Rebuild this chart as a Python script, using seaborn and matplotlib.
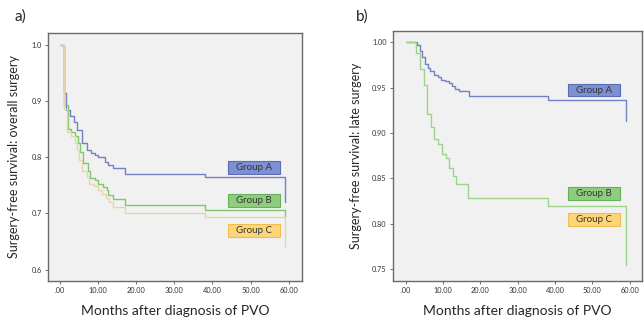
import numpy as np
import pandas as pd
import matplotlib
matplotlib.use("Agg")
import matplotlib.pyplot as plt
import seaborn as sns
from matplotlib.patches import Rectangle

# Panel a) - overall surgery
a_months_A = [0, 1.1, 1.75, 2.6, 3.6, 4.6, 5.7, 7.0, 8.3, 9.2, 10.1, 11.8, 12.7, 14.0, 17.0, 38.0, 59.0]
a_surv_A = [1.0, 0.915, 0.884, 0.873, 0.863, 0.849, 0.825, 0.8125, 0.808, 0.804, 0.800, 0.792, 0.786, 0.780, 0.771, 0.765, 0.720]
a_months_B = [0, 1.0, 2.2, 3.0, 3.9, 4.8, 5.2, 6.1, 7.4, 7.9, 9.2, 10.1, 11.4, 12.3, 12.7, 14.0, 17.0, 38.0, 59.0]
a_surv_B = [1.0, 0.893, 0.850, 0.845, 0.838, 0.825, 0.810, 0.790, 0.775, 0.763, 0.759, 0.753, 0.747, 0.741, 0.732, 0.726, 0.715, 0.707, 0.695]
a_months_C = [0, 1.0, 2.0, 3.0, 3.9, 4.6, 5.0, 5.8, 7.0, 7.6, 9.0, 10.0, 11.0, 12.0, 12.8, 14.0, 17.0, 38.0, 59.0]
a_surv_C = [1.0, 0.885, 0.845, 0.838, 0.826, 0.812, 0.795, 0.775, 0.765, 0.752, 0.748, 0.742, 0.735, 0.727, 0.720, 0.712, 0.700, 0.693, 0.640]

# Panel b) - late surgery
b_months_A = [0, 3.0, 3.8, 4.5, 5.2, 6.0, 6.6, 7.5, 8.6, 9.6, 10.6, 11.5, 12.3, 13.2, 14.2, 17.0, 38.0, 59.0]
b_surv_A = [1.0, 0.997, 0.991, 0.984, 0.976, 0.972, 0.968, 0.964, 0.962, 0.959, 0.957, 0.955, 0.952, 0.949, 0.946, 0.941, 0.937, 0.913]
b_months_B = [0, 2.9, 3.8, 4.9, 5.8, 6.8, 7.7, 8.7, 9.7, 10.7, 11.7, 12.7, 13.6, 16.8, 38.0, 59.0]
b_surv_B = [1.0, 0.988, 0.971, 0.953, 0.921, 0.907, 0.893, 0.888, 0.877, 0.872, 0.861, 0.853, 0.844, 0.829, 0.820, 0.755]

groups = ["Group A", "Group B", "Group C"]
line_colors = {"Group A": "#7181c2", "Group B": "#7dc86a", "Group C": "#e3d6aa"}
box_face = {"Group A": "#7e90d2", "Group B": "#8fcd7e", "Group C": "#fdd67a"}
box_edge = {"Group A": "#5a6cb5", "Group B": "#67b256", "Group C": "#efbf4c"}

xticks = [0, 10, 20, 30, 40, 50, 60]
xtick_labels = [".00", "10.00", "20.00", "30.00", "40.00", "50.00", "60.00"]
a_yticks = [0.6, 0.7, 0.8, 0.9, 1.0]
a_ytick_labels = ["0.6", "0.7", "0.8", "0.9", "1.0"]
b_yticks = [0.75, 0.80, 0.85, 0.90, 0.95, 1.00]
b_ytick_labels = ["0.75", "0.80", "0.85", "0.90", "0.95", "1.00"]


def long_df(parts):
    rows = []
    for g, t, s in parts:
        for ti, si in zip(t, s):
            rows.append({"group": g, "month": ti, "surv": si})
    return pd.DataFrame(rows)


# draw order: A underneath, so the shared start at 1.0 shows as B/C
df_a = long_df([("Group A", a_months_A, a_surv_A),
                ("Group B", a_months_B, a_surv_B),
                ("Group C", a_months_C, a_surv_C)])
df_b = long_df([("Group A", b_months_A, b_surv_A),
                ("Group B", b_months_B, b_surv_B)])

sns.set_style("white")
plt.rcParams["font.family"] = ["Lato", "DejaVu Sans"]

fig = plt.figure(figsize=(6.44, 3.2), dpi=100)
ax_a = fig.add_axes([0.0745, 0.122, 0.3945, 0.775])
ax_b = fig.add_axes([0.610, 0.122, 0.387, 0.781])

pal_b = {"Group A": line_colors["Group A"], "Group B": "#9dd48a"}

for ax, df, pal in [(ax_a, df_a, line_colors), (ax_b, df_b, pal_b)]:
    sns.lineplot(data=df, x="month", y="surv", hue="group", palette=pal,
                 estimator=None, drawstyle="steps-post", linewidth=1.0,
                 legend=False, ax=ax)

# axes styling
ax_a.set_xlim(-3.1, 63.5)
ax_a.set_ylim(0.58, 1.021)
ax_a.set_yticks(a_yticks)
ax_a.set_yticklabels(a_ytick_labels)
ax_a.set_ylabel("Surgery-free survival: overall surgery", fontsize=9, labelpad=8)

ax_b.set_xlim(-3.4, 63.3)
ax_b.set_ylim(0.737, 1.0125)
ax_b.set_yticks(b_yticks)
ax_b.set_yticklabels(b_ytick_labels)
ax_b.set_ylabel("Surgery-free survival: late surgery", fontsize=9, labelpad=7)

for ax in (ax_a, ax_b):
    ax.set_facecolor("#f1f1f1")
    ax.set_xticks(xticks)
    ax.set_xticklabels(xtick_labels)
    ax.set_xlabel("Months after diagnosis of PVO", fontsize=10, labelpad=8)
    ax.tick_params(axis="both", labelsize=5.3, length=2.5, width=0.6,
                   colors="#555555", labelcolor="#333333", direction="out",
                   left=True, bottom=True, pad=2)
    for sp in ax.spines.values():
        sp.set_visible(True)
        sp.set_color("#6a6a6a")
        sp.set_linewidth(1.0)

# legend boxes
a_box_y = {"Group A": 0.781, "Group B": 0.723, "Group C": 0.670}
b_box_y = {"Group A": 0.9475, "Group B": 0.8335, "Group C": 0.8043}
for ax, ys, x0, x1, h in [(ax_a, a_box_y, 44.1, 57.7, 0.023),
                          (ax_b, b_box_y, 43.4, 57.3, 0.0143)]:
    for g in groups:
        yc = ys[g]
        ax.add_patch(Rectangle((x0, yc - h / 2), x1 - x0, h,
                               facecolor=box_face[g], edgecolor=box_edge[g],
                               linewidth=0.8, zorder=3))
        ax.text((x0 + x1) / 2, yc, g, ha="center", va="center",
                fontsize=7, color="#333333", zorder=4)

fig.text(0.023, 0.935, "a)", fontsize=11, color="#222222")
fig.text(0.552, 0.935, "b)", fontsize=11, color="#222222")

fig.savefig("out.png", dpi=100)
